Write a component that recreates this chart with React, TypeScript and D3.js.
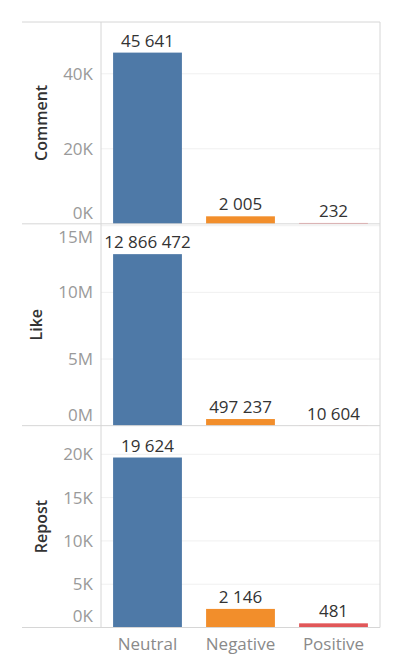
import React, { useEffect, useRef } from 'react';
import * as d3 from 'd3';

// categories and colours
const sentiments = ['Neutral', 'Negative', 'Positive'];
const sentimentColors = ['#4e79a7', '#f28e2b', '#e15759'];

// measures (one pane each)
const measures = ['Comment', 'Like', 'Repost'];
const commentValues = [45641, 2005, 232];
const likeValues = [12866472, 497237, 10604];
const repostValues = [19624, 2146, 481];

// axis settings
const axisMax = [53800, 15140000, 23300];
const commentTicks = [0, 20000, 40000];
const likeTicks = [0, 5000000, 10000000, 15000000];
const repostTicks = [0, 5000, 10000, 15000, 20000];
const tickUnits = ['K', 'M', 'K'];

const W = 400;
const H = 666;
const outerLeft = 22;
const paneLeft = 101;
const paneRight = 380;
const top = 22;
const bottom = 627.5;
const titleX = [47, 42, 47];

const font = '"Open Sans", sans-serif';

const locale = d3.formatLocale({
  decimal: '.',
  thousands: ' ',
  grouping: [3],
  currency: ['', ''],
});
const fmt = locale.format(',d');

const App: React.FC = () => {
  const ref = useRef<SVGSVGElement | null>(null);

  useEffect(() => {
    if (!ref.current) return;
    const svg = d3.select(ref.current).html('');

    const values = [commentValues, likeValues, repostValues];
    const ticks = [commentTicks, likeTicks, repostTicks];

    const x = d3
      .scaleBand<string>()
      .domain(sentiments)
      .range([paneLeft, paneRight])
      .paddingInner(0.26)
      .paddingOuter(0.13);

    const band = d3
      .scaleBand<string>()
      .domain(measures)
      .range([top, bottom]);

    measures.forEach((m, mi) => {
      const y0 = band(m)!;
      const y1 = y0 + band.bandwidth();
      const y = d3.scaleLinear().domain([0, axisMax[mi]]).range([y1, y0]);
      const g = svg.append('g');
      const div = tickUnits[mi] === 'M' ? 1e6 : 1e3;

      // gridlines
      g.selectAll('line.grid')
        .data(ticks[mi].filter((t) => t > 0))
        .enter()
        .append('line')
        .attr('x1', paneLeft)
        .attr('x2', paneRight)
        .attr('y1', (d) => y(d))
        .attr('y2', (d) => y(d))
        .attr('stroke', '#f0f0f0')
        .attr('stroke-width', 1);

      // tick labels
      g.selectAll('text.tick')
        .data(ticks[mi])
        .enter()
        .append('text')
        .attr('x', 93)
        .attr('y', (d) => Math.min(Math.max(y(d), y0 + 13), y1 - 11))
        .attr('dy', '0.35em')
        .attr('text-anchor', 'end')
        .attr('font-family', font)
        .attr('font-size', 17)
        .attr('fill', '#9a9a9a')
        .text((d) => `${d / div}${tickUnits[mi]}`);

      // axis title
      g.append('text')
        .attr('transform', `translate(${titleX[mi]},${(y0 + y1) / 2}) rotate(-90)`)
        .attr('text-anchor', 'middle')
        .attr('font-family', font)
        .attr('font-size', 16)
        .attr('font-weight', 600)
        .attr('fill', '#333')
        .text(m);

      // bars
      g.selectAll('rect.bar')
        .data(values[mi])
        .enter()
        .append('rect')
        .attr('x', (_, i) => x(sentiments[i])!)
        .attr('width', x.bandwidth())
        .attr('y', (d) => y(d))
        .attr('height', (d) => y(0) - y(d))
        .attr('fill', (_, i) => sentimentColors[i]);

      // value labels
      g.selectAll('text.val')
        .data(values[mi])
        .enter()
        .append('text')
        .attr('x', (_, i) => x(sentiments[i])! + x.bandwidth() / 2)
        .attr('y', (d) => y(d) - 6)
        .attr('text-anchor', 'middle')
        .attr('font-family', font)
        .attr('font-size', 17)
        .attr('fill', '#333')
        .text((d) => fmt(d));

      // pane baseline
      g.append('line')
        .attr('x1', outerLeft)
        .attr('x2', paneRight)
        .attr('y1', y1)
        .attr('y2', y1)
        .attr('stroke', '#d6d6d6');
    });

    // frame
    svg.append('line')
      .attr('x1', outerLeft).attr('x2', paneRight)
      .attr('y1', top).attr('y2', top)
      .attr('stroke', '#d6d6d6');
    svg.append('line')
      .attr('x1', paneLeft).attr('x2', paneLeft)
      .attr('y1', top).attr('y2', bottom)
      .attr('stroke', '#d6d6d6');
    svg.append('line')
      .attr('x1', paneRight).attr('x2', paneRight)
      .attr('y1', top).attr('y2', bottom)
      .attr('stroke', '#d6d6d6');

    // category labels
    svg.selectAll('text.cat')
      .data(sentiments)
      .enter()
      .append('text')
      .attr('x', (d) => x(d)! + x.bandwidth() / 2)
      .attr('y', 650)
      .attr('text-anchor', 'middle')
      .attr('font-family', font)
      .attr('font-size', 17)
      .attr('fill', '#8a8a8a')
      .text((d) => d);
  }, []);

  return (
    <svg
      ref={ref}
      width={W}
      height={H}
      style={{ position: 'absolute', left: 0, top: 0, background: '#fff' }}
    />
  );
};

export default App;
